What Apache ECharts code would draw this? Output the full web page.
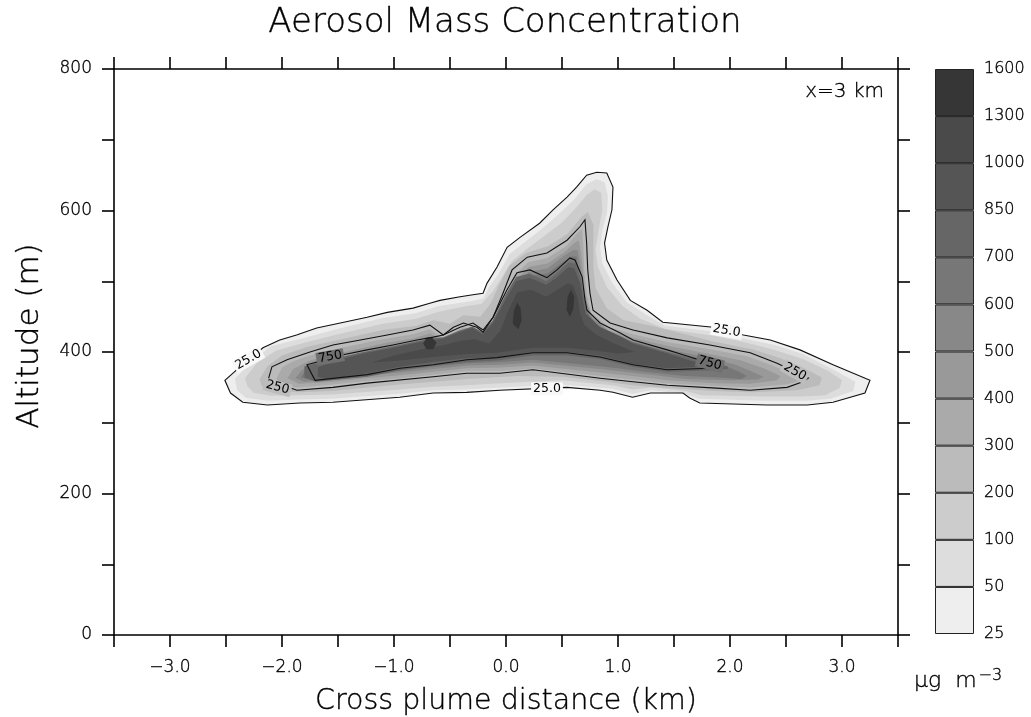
<!DOCTYPE html>
<html><head><meta charset="utf-8">
<script src="https://cdn.jsdelivr.net/npm/echarts@6/dist/echarts.min.js"></script>
<style>html,body{margin:0;padding:0;background:#fff}#c{width:1031px;height:717px}</style>
</head><body><div id="c"></div>
<script>
// ---------- data ----------
const levels = ['25','50','100','200','300','400','500','600','700','850','1000','1300','1600'];
const bandColors = ['#eeeeee','#dddddd','#cccccc','#bbbbbb','#aaaaaa','#999999','#888888','#777777','#666666','#555555','#4a4a4a','#363636'];

// contour polygons [km, m]
const c25 = [[-2.51,360],[-2.375,379],[-2.17,406],[-2.02,417],[-1.87,424],[-1.69,434],[-1.48,441],[-1.24,449],[-1.06,456],[-0.83,462],[-0.68,469],[-0.59,473],[-0.41,478],[-0.295,481],[-0.205,483],[-0.17,497],[-0.08,520],[0.01,548],[0.125,562],[0.30,582],[0.42,601],[0.545,619],[0.63,633],[0.72,650],[0.81,654],[0.90,653],[0.955,633],[0.946,601],[0.91,577],[0.88,554],[0.90,530],[0.99,502],[1.11,473],[1.26,459],[1.40,442],[1.85,435],[2.12,424],[2.36,417],[2.625,403],[2.92,382],[3.25,360],[3.205,342],[2.92,329],[2.69,325],[2.33,325],[1.73,328],[1.64,335],[1.58,342],[1.29,342],[1.13,336],[0.955,343],[0.84,346],[0.545,350],[-0.055,346],[-0.35,343],[-0.65,342],[-0.95,336],[-1.545,329],[-1.84,328],[-2.13,325],[-2.35,329],[-2.46,342]];
const c50 = [[-2.42,362],[-2.3,382],[-2.1,408],[-1.85,418],[-1.5,433],[-1.1,448],[-0.8,455],[-0.6,465],[-0.3,472],[-0.2,476],[-0.15,492],[-0.06,512],[0.03,538],[0.15,553],[0.32,574],[0.45,592],[0.6,614],[0.72,637],[0.81,644],[0.88,640],[0.91,620],[0.9,595],[0.86,572],[0.84,548],[0.86,525],[0.95,497],[1.08,470],[1.25,453],[1.42,437],[1.85,429],[2.15,418],[2.4,410],[2.65,397],[2.9,377],[3.12,358],[3.1,345],[2.9,334],[2.68,331],[2.3,331],[1.72,334],[1.6,341],[1.3,346],[1.13,341],[0.95,348],[0.5,354],[-0.05,350],[-0.35,347],[-0.65,346],[-0.95,341],[-1.55,334],[-1.85,333],[-2.12,331],[-2.32,335],[-2.4,346]];
const c100 = [[-2.33,363],[-2.22,385],[-2.05,402],[-1.8,413],[-1.5,425],[-1.1,440],[-0.8,447],[-0.6,457],[-0.35,465],[-0.22,468],[-0.12,485],[-0.04,505],[0.05,528],[0.18,545],[0.35,565],[0.5,583],[0.62,603],[0.72,622],[0.79,630],[0.85,625],[0.86,600],[0.83,575],[0.8,545],[0.82,520],[0.9,492],[1.04,465],[1.2,447],[1.42,433],[1.85,423],[2.15,413],[2.4,403],[2.65,390],[2.88,373],[3.0,360],[2.98,349],[2.85,339],[2.65,337],[2.3,337],[1.75,339],[1.6,345],[1.3,350],[1.13,347],[0.95,353],[0.5,360],[-0.05,356],[-0.35,353],[-0.65,351],[-0.95,347],[-1.55,340],[-1.85,339],[-2.1,338],[-2.25,342],[-2.31,352]];
const c200 = [[-2.2,362],[-2.13,380],[-2.0,395],[-1.78,407],[-1.5,417],[-1.1,431],[-0.8,437],[-0.65,445],[-0.5,440],[-0.38,452],[-0.23,450],[-0.14,468],[-0.06,495],[0.03,522],[0.18,540],[0.38,550],[0.55,567],[0.67,590],[0.73,598],[0.78,580],[0.78,550],[0.78,520],[0.8,490],[0.9,462],[1.05,445],[1.3,437],[1.6,425],[1.85,415],[2.2,404],[2.45,391],[2.65,378],[2.82,364],[2.8,353],[2.6,346],[2.2,343],[1.85,345],[1.45,349],[1.13,353],[0.9,358],[0.5,365],[0.1,366],[-0.35,362],[-0.65,358],[-0.95,354],[-1.55,345],[-1.85,343],[-2.1,344],[-2.18,352]];
const c250 = [[-2.125,360],[-2.09,379],[-1.955,389],[-1.75,400],[-1.545,410],[-1.30,417],[-1.06,424],[-0.83,431],[-0.68,438],[-0.56,424],[-0.47,435],[-0.38,441],[-0.26,435],[-0.205,428],[-0.115,449],[-0.027,483],[0.054,516],[0.19,534],[0.366,540],[0.545,558],[0.66,577],[0.705,587],[0.72,554],[0.73,516],[0.75,483],[0.777,459],[0.93,441],[1.134,431],[1.44,420],[1.82,410],[2.18,399],[2.42,384],[2.58,372],[2.70,363],[2.65,358],[2.51,350],[2.18,346],[1.88,349],[1.44,353],[1.134,358],[0.84,363],[0.24,375],[-0.055,370],[-0.35,370],[-0.65,365],[-1.24,356],[-1.545,350],[-1.866,346]];
const c300 = [[-2.05,362],[-2.0,378],[-1.9,387],[-1.75,395],[-1.5,405],[-1.1,418],[-0.83,425],[-0.68,432],[-0.56,419],[-0.46,428],[-0.38,435],[-0.27,430],[-0.2,422],[-0.1,443],[-0.01,478],[0.07,508],[0.2,527],[0.37,533],[0.54,550],[0.63,567],[0.68,574],[0.69,550],[0.7,515],[0.72,483],[0.76,455],[0.92,435],[1.13,425],[1.44,414],[1.82,404],[2.15,394],[2.38,381],[2.55,369],[2.63,362],[2.6,358],[2.5,354],[2.18,350],[1.88,352],[1.44,356],[1.13,361],[0.84,366],[0.24,377],[-0.05,373],[-0.35,373],[-0.65,368],[-0.95,363],[-1.24,359],[-1.55,354],[-1.87,350],[-2.0,354]];
const c400 = [[-1.95,363],[-1.9,376],[-1.75,388],[-1.5,398],[-1.1,412],[-0.83,419],[-0.68,426],[-0.56,417],[-0.45,426],[-0.35,431],[-0.26,427],[-0.18,418],[-0.08,438],[0.0,470],[0.08,500],[0.2,520],[0.37,525],[0.53,542],[0.6,553],[0.65,558],[0.67,540],[0.69,510],[0.71,480],[0.75,452],[0.92,430],[1.13,420],[1.44,409],[1.82,397],[2.1,388],[2.3,377],[2.45,366],[2.42,360],[2.18,355],[1.88,356],[1.44,360],[1.13,366],[0.84,371],[0.24,381],[-0.05,378],[-0.35,377],[-0.65,372],[-0.95,367],[-1.24,363],[-1.55,358],[-1.85,355]];
const c500 = [[-1.88,363],[-1.82,375],[-1.7,383],[-1.5,391],[-1.1,406],[-0.83,414],[-0.68,420],[-0.56,415],[-0.44,423],[-0.33,428],[-0.25,424],[-0.16,417],[-0.07,433],[0.0,462],[0.08,493],[0.2,513],[0.37,518],[0.5,534],[0.6,544],[0.64,544],[0.66,525],[0.69,495],[0.72,470],[0.77,448],[0.94,426],[1.13,415],[1.44,404],[1.82,392],[2.05,382],[2.2,372],[2.3,365],[2.25,361],[2.0,360],[1.6,362],[1.3,368],[1.0,373],[0.84,376],[0.24,385],[-0.05,382],[-0.35,381],[-0.65,376],[-0.95,371],[-1.24,367],[-1.55,362],[-1.8,358]];
const c600 = [[-1.83,364],[-1.78,377],[-1.6,384],[-1.3,395],[-1.0,405],[-0.8,412],[-0.66,417],[-0.56,414],[-0.43,420],[-0.32,425],[-0.24,421],[-0.15,415],[-0.06,428],[0.0,455],[0.08,485],[0.2,507],[0.37,511],[0.48,524],[0.58,535],[0.63,535],[0.65,515],[0.68,490],[0.71,466],[0.76,445],[0.95,423],[1.13,413],[1.44,400],[1.7,392],[1.95,381],[2.08,372],[2.15,366],[2.1,362],[1.9,364],[1.6,366],[1.3,371],[1.0,377],[0.84,380],[0.24,389],[-0.05,386],[-0.35,384],[-0.65,379],[-0.95,374],[-1.24,370],[-1.55,365],[-1.75,361]];
const c700 = [[-1.8,364],[-1.8,380],[-1.6,388],[-1.3,399],[-1.0,408],[-0.8,415],[-0.66,419],[-0.56,421],[-0.42,430],[-0.3,436],[-0.21,428],[-0.12,444],[0.0,482],[0.09,506],[0.21,511],[0.36,500],[0.45,511],[0.56,527],[0.62,525],[0.67,504],[0.7,472],[0.72,455],[0.83,436],[1.0,424],[1.13,414],[1.44,400],[1.6,393],[1.8,383],[1.98,380],[1.98,376],[1.82,374],[1.44,372],[1.13,379],[0.84,390],[0.545,395],[0.24,395],[-0.08,388],[-0.35,386],[-0.65,381],[-0.95,374],[-1.24,365],[-1.7,358]];
const c750 = [[-1.777,382],[-1.57,391],[-1.455,396],[-1.24,403],[-1.01,410],[-0.795,417],[-0.65,421],[-0.56,424],[-0.41,435],[-0.295,441],[-0.205,431],[-0.116,449],[0.009,488],[0.098,512],[0.214,516],[0.366,505],[0.455,516],[0.57,533],[0.616,530],[0.68,506],[0.705,474],[0.723,459],[0.84,441],[1.02,427],[1.134,417],[1.44,403],[1.58,396],[1.80,385],[1.93,382],[1.82,377],[1.44,375],[1.134,382],[0.84,393],[0.545,399],[0.241,399],[-0.08,392],[-0.35,389],[-0.65,382],[-0.946,377],[-1.24,368],[-1.705,360]];
const c850 = [[-1.68,365],[-1.68,378],[-1.55,387],[-1.24,399],[-1.0,406],[-0.8,413],[-0.65,417],[-0.56,419],[-0.42,428],[-0.3,434],[-0.21,425],[-0.12,440],[0.0,475],[0.09,500],[0.21,505],[0.36,495],[0.45,505],[0.56,520],[0.61,518],[0.66,498],[0.69,470],[0.71,454],[0.84,435],[1.02,422],[1.13,412],[1.44,398],[1.6,390],[1.75,383],[1.75,379],[1.44,377],[1.13,383],[0.84,395],[0.545,400],[0.24,400],[-0.08,393],[-0.35,391],[-0.65,386],[-0.95,379],[-1.24,370],[-1.6,362]];
const c1000 = [[-1.2,385],[-1.0,395],[-0.75,404],[-0.55,410],[-0.4,416],[-0.28,418],[-0.15,412],[-0.05,430],[0.03,462],[0.1,484],[0.22,488],[0.36,478],[0.46,488],[0.55,497],[0.6,494],[0.64,476],[0.66,455],[0.7,438],[0.8,425],[0.95,413],[1.15,400],[1.0,398],[0.8,402],[0.55,406],[0.24,406],[-0.08,399],[-0.35,397],[-0.65,393],[-0.95,388]];
const c1300a = [[-0.74,412],[-0.71,420],[-0.66,421],[-0.62,413],[-0.65,404],[-0.71,404]];
const c1300b = [[0.06,440],[0.07,458],[0.1,470],[0.13,462],[0.14,445],[0.11,432]];
const c1300c = [[0.54,460],[0.55,478],[0.58,488],[0.61,478],[0.6,460],[0.57,450]];

// contour labels: text, x(km), y(m), angle(deg)
const contourLabels = [['25.0',-2.30,389,30],['750',-1.57,393,10],['250',-2.04,350,-15],['25.0',0.366,348,0],['25.0',1.97,430,-10],['750',1.82,384,-15],['250',2.58,372,-30]];

// ---------- build ----------
const FONT = 'DejaVu Sans';
const FW = 200;
const TB = { textBorderColor: '#000', textBorderWidth: 0.35 };   // for echarts label styles
const GS = { stroke: '#000', lineWidth: 0.35 };                  // for raw graphic text styles
const fills = [
  [c25,0],[c50,1],[c100,2],[c200,3],[c300,4],[c400,5],[c500,6],[c600,7],[c700,8],[c850,9],[c1000,10],[c1300a,11],[c1300b,11],[c1300c,11]
];
const lines = [c25, c250, c750];

function polySeries(points, fill, stroke, z) {
  return {
    type: 'custom', coordinateSystem: 'cartesian2d', xAxisIndex: 0, yAxisIndex: 0,
    silent: true, z: z, data: points,
    renderItem: function (params, api) {
      if (params.dataIndex !== 0) return null;
      const pts = points.map(p => api.coord(p));
      return { type: 'polygon', shape: { points: pts },
        style: { fill: fill, stroke: stroke, lineWidth: stroke === 'none' ? 0 : 1.1 } };
    }
  };
}

const series = [];
fills.forEach(f => series.push(polySeries(f[0], bandColors[f[1]], 'none', 2)));
lines.forEach(l => series.push(polySeries(l, 'none', '#111', 3)));
series.push({
  type: 'custom', coordinateSystem: 'cartesian2d', xAxisIndex: 0, yAxisIndex: 0, silent: true, z: 4,
  data: contourLabels.map(l => [l[1], l[2]]),
  renderItem: function (params, api) {
    const p = api.coord([api.value(0), api.value(1)]);
    const lab = contourLabels[params.dataIndex];
    return { type: 'text', x: p[0], y: p[1], rotation: lab[3] * Math.PI / 180,
      style: { text: lab[0], fontFamily: FONT, fontSize: 12.5, fontWeight: 'normal', fill: '#000', align: 'center', verticalAlign: 'middle',
        backgroundColor: lab[0] === '25.0' ? '#f8f8f8' : (lab[0] === '250' ? '#bdbdbd' : '#707070'), padding: [0, 2] } };
  }
});
// colorbar
bandColors.forEach(c => series.push({
  type: 'bar', xAxisIndex: 2, yAxisIndex: 2, stack: 'cb', data: [1], barWidth: '100%', silent: true,
  itemStyle: { color: c, borderColor: '#222', borderWidth: 1 }
}));

const axisLine = { show: true, onZero: false, lineStyle: { color: '#000', width: 1.6 } };
const axisTick = { show: true, length: 12, inside: false, lineStyle: { color: '#000', width: 1.6 } };
const labStyle = Object.assign({ fontFamily: FONT, fontSize: 17, color: '#000', fontWeight: FW }, TB);
const nameStyleX = Object.assign({ fontFamily: FONT, fontSize: 28.5, fontWeight: FW, color: '#000' }, TB);

const option = {
  animation: false,
  backgroundColor: '#fff',
  grid: [
    { left: 114, top: 69, width: 784, height: 566, outerBoundsMode: 'none', containLabel: false },
    { left: 935, top: 69, width: 39, height: 565, outerBoundsMode: 'none', containLabel: false }
  ],
  xAxis: [
    { type: 'value', gridIndex: 0, min: -3.5, max: 3.5, interval: 0.5, position: 'bottom',
      axisLine, axisTick, splitLine: { show: false },
      axisLabel: Object.assign({ margin: 24, showMinLabel: true, showMaxLabel: true,
        formatter: v => Math.abs(v - Math.round(v)) < 1e-6 ? (v < 0 ? '\u2212' : '') + Math.abs(v).toFixed(1) : '' }, labStyle),
      name: 'Cross plume distance (km)', nameLocation: 'middle', nameGap: 52, nameTextStyle: nameStyleX },
    { type: 'value', gridIndex: 0, min: -3.5, max: 3.5, interval: 0.5, position: 'top',
      axisLine, axisTick, splitLine: { show: false }, axisLabel: { show: false } },
    { type: 'category', gridIndex: 1, data: ['c'], show: false, boundaryGap: true }
  ],
  yAxis: [
    { type: 'value', gridIndex: 0, min: 0, max: 800, interval: 100, position: 'left',
      axisLine, axisTick, splitLine: { show: false },
      axisLabel: Object.assign({ margin: 22, formatter: v => v % 200 === 0 ? String(v) : '' }, labStyle) },
    { type: 'value', gridIndex: 0, min: 0, max: 800, interval: 100, position: 'right',
      axisLine, axisTick, splitLine: { show: false }, axisLabel: { show: false } },
    { type: 'value', gridIndex: 1, min: 0, max: 12, interval: 1, position: 'right',
      axisLine: { show: false }, axisTick: { show: false }, splitLine: { show: false },
      axisLabel: Object.assign({ margin: 10, formatter: v => levels[Math.round(v)] }, labStyle, { fontSize: 16 }) }
  ],
  graphic: [
    { type: 'text', x: 505, y: 23, style: Object.assign({ text: 'Aerosol Mass Concentration', fontFamily: FONT, fontSize: 34, fontWeight: FW, fill: '#000', align: 'center', verticalAlign: 'middle' }, GS) },
    { type: 'text', x: 30, y: 336, rotation: Math.PI / 2, style: Object.assign({ text: 'Altitude (m)', fontFamily: FONT, fontSize: 31, fontWeight: FW, fill: '#000', align: 'center', verticalAlign: 'middle' }, GS) },
    { type: 'text', x: 884, y: 92, style: Object.assign({ text: 'x=3 km', fontFamily: FONT, fontSize: 20, fontWeight: FW, fill: '#000', align: 'right', verticalAlign: 'middle' }, GS) },
    { type: 'text', x: 914, y: 681, style: { rich: { a: Object.assign({ fontFamily: FONT, fontSize: 22, fontWeight: FW, fill: '#000' }, GS), s: Object.assign({ fontFamily: FONT, fontSize: 16, fontWeight: FW, fill: '#000', verticalAlign: 'top', padding: [0,0,10,2] }, GS) },
      text: '{a|\u03BCg  m}{s|\u22123}', align: 'left', verticalAlign: 'middle' } }
  ],
  series
};
const chart = echarts.init(document.getElementById('c'), null, { renderer: 'canvas' });
chart.setOption(option);
</script></body></html>
